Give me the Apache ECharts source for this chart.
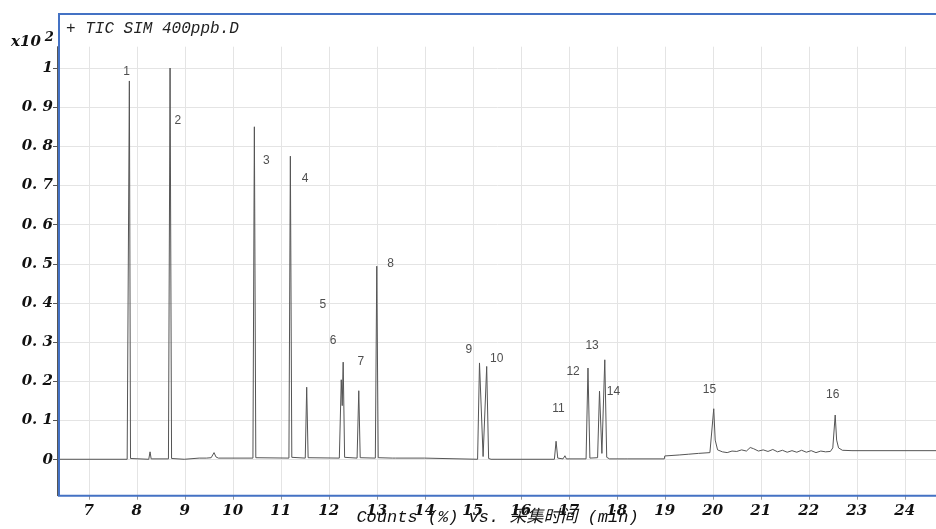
<!DOCTYPE html>
<html>
<head>
<meta charset="utf-8">
<title>TIC SIM 400ppb.D</title>
<script src="https://cdn.jsdelivr.net/npm/echarts@6/dist/echarts.min.js"></script>
<style>
  html, body { margin: 0; padding: 0; background: #fff; }
  #chart { width: 936px; height: 529px; }
</style>
</head>
<body>
<div id="chart"></div>
<script>
// retention time (min) and signal (x10^2 counts %)
const rtMin = [
  6.38, 7.80, 7.82, 7.846, 7.87, 7.90,
  8.25, 8.277, 8.30, 8.66, 8.694, 8.725, 8.76, 8.99,
  9.00, 9.30, 9.33, 9.45, 9.55, 9.61, 9.65, 9.70,
  10.42, 10.45, 10.48, 11.17, 11.20, 11.23, 11.26,
  11.51, 11.54, 11.57, 12.22, 12.26, 12.28, 12.30, 12.33, 12.37,
  12.59, 12.625, 12.655, 12.97, 13.00, 13.03, 13.07,
  13.33, 13.36, 13.39, 13.99, 14.00,
  15.10, 15.14, 15.215, 15.29, 15.33, 15.38,
  16.70, 16.735, 16.77, 16.88, 16.92, 16.95,
  17.36, 17.40, 17.44, 17.60, 17.64, 17.69, 17.75, 17.79, 17.85,
  18.17, 18.20, 18.23, 18.99,
  19.00, 19.30, 19.50, 19.70, 19.94, 20.02, 20.05, 20.10, 20.20,
  20.30, 20.40, 20.50, 20.60, 20.70, 20.78, 20.85, 20.95, 21.05, 21.15,
  21.25, 21.35, 21.45, 21.55, 21.65, 21.75, 21.85, 21.95, 22.05, 22.15,
  22.25, 22.35, 22.45, 22.50, 22.55, 22.58, 22.62, 22.70, 22.90, 24.65
];
const counts = [
  0.001, 0.001, 0.002, 0.967, 0.003, 0.001,
  0.001, 0.020, 0.002, 0.002, 1.000, 0.003, 0.001, 0.001,
  0.003, 0.004, 0.006, 0.004, 0.005, 0.018, 0.007, 0.004,
  0.004, 0.850, 0.005, 0.004, 0.775, 0.006, 0.004,
  0.004, 0.185, 0.005, 0.004, 0.204, 0.138, 0.249, 0.006, 0.004,
  0.004, 0.176, 0.005, 0.004, 0.494, 0.005, 0.004,
  0.004, 0.008, 0.004, 0.004, 0.001,
  0.001, 0.247, 0.008, 0.238, 0.003, 0.001,
  0.001, 0.047, 0.004, 0.002, 0.010, 0.002,
  0.002, 0.234, 0.004, 0.005, 0.175, 0.016, 0.255, 0.006, 0.002,
  0.002, 0.006, 0.002, 0.002,
  0.0095, 0.012, 0.014, 0.016, 0.018, 0.130, 0.050, 0.025, 0.020,
  0.018, 0.022, 0.021, 0.025, 0.022, 0.031, 0.028, 0.022, 0.025, 0.021,
  0.026, 0.020, 0.024, 0.019, 0.023, 0.019, 0.024, 0.019, 0.023, 0.018,
  0.022, 0.020, 0.021, 0.030, 0.114, 0.050, 0.030, 0.024, 0.023, 0.023
];

// peak numbers and where their labels sit
const peakNo = ['1', '2', '3', '4', '5', '6', '7', '8', '9', '10', '11', '12', '13', '14', '15', '16'];
const peakLabelRt = [7.79, 8.854, 10.70, 11.506, 11.875, 12.09, 12.667, 13.29, 14.917, 15.50, 16.783, 17.09, 17.485, 17.93, 19.93, 22.50];
const peakLabelY = [0.99, 0.866, 0.764, 0.718, 0.396, 0.304, 0.251, 0.501, 0.281, 0.259, 0.13, 0.225, 0.292, 0.174, 0.179, 0.166];

const xTicks = [7, 8, 9, 10, 11, 12, 13, 14, 15, 16, 17, 18, 19, 20, 21, 22, 23, 24];
const yTicks = [0, 0.1, 0.2, 0.3, 0.4, 0.5, 0.6, 0.7, 0.8, 0.9, 1];

const chart = echarts.init(document.getElementById('chart'));

const tickFont = {
  fontFamily: '"DejaVu Serif", "Liberation Serif", serif',
  fontStyle: 'italic',
  fontWeight: 'bold',
  fontSize: 15,
  color: '#111'
};

const option = {
  animation: false,
  backgroundColor: '#fff',
  grid: { left: 59, right: 0, top: 46.7, bottom: 33.3, containLabel: false, outerBoundsMode: 'none' },
  xAxis: {
    type: 'value',
    min: 6.38,
    max: 24.65,
    name: 'Counts (%) vs. 采集时间 (min)',
    nameLocation: 'middle',
    nameGap: 13,
    nameMoveOverlap: false,
    nameTextStyle: {
      fontFamily: '"Liberation Mono", "Noto Sans CJK SC", monospace',
      fontStyle: 'italic',
      fontSize: 17,
      color: '#111'
    },
    axisLine: { show: false, onZero: false },
    axisTick: { show: true, length: 4, customValues: xTicks, lineStyle: { color: '#999' } },
    axisLabel: { ...tickFont, margin: 8, customValues: xTicks },
    splitLine: { show: true, lineStyle: { color: '#e4e4e4', width: 1 } }
  },
  yAxis: {
    type: 'value',
    min: -0.092,
    max: 1.0545,
    offset: 2,
    axisLine: { show: true, onZero: false, lineStyle: { color: '#555', width: 1 } },
    axisTick: { show: true, length: 4, customValues: yTicks, lineStyle: { color: '#555' } },
    axisLabel: {
      ...tickFont,
      margin: 4,
      customValues: yTicks,
      formatter: (v) => {
        if (v === 0) return '0';
        if (v === 1) return '1';
        return '0. ' + Math.round(v * 10);
      }
    },
    splitLine: { show: true, lineStyle: { color: '#e4e4e4', width: 1 } }
  },
  graphic: [
    {
      type: 'rect',
      shape: { x: 59, y: 14, width: 900, height: 481.7 },
      style: { fill: null, stroke: '#4472c4', lineWidth: 2 },
      z: 100,
      silent: true
    },
    {
      type: 'text',
      left: 66,
      top: 21,
      style: {
        text: '+ TIC SIM 400ppb.D',
        font: 'italic 16px "Liberation Mono", monospace',
        fill: '#222'
      },
      z: 101
    },
    {
      type: 'text',
      left: 11,
      top: 31,
      style: {
        text: '{b|x10}{s|2}',
        rich: {
          b: { font: 'italic bold 15px "DejaVu Serif", serif', fill: '#111' },
          s: { font: 'italic bold 13px "DejaVu Serif", serif', fill: '#111', padding: [0, 0, 9, 4] }
        }
      },
      z: 101
    }
  ],
  series: [
    {
      name: 'TIC',
      type: 'line',
      data: rtMin.map((t, i) => [t, counts[i]]),
      showSymbol: false,
      symbol: 'none',
      lineStyle: { color: '#555', width: 1 },
      z: 5
    },
    {
      name: 'peaks',
      type: 'scatter',
      symbolSize: 0,
      data: peakLabelRt.map((t, i) => [t, peakLabelY[i]]),
      label: {
        show: true,
        position: 'inside',
        formatter: (p) => peakNo[p.dataIndex],
        fontFamily: '"Liberation Sans", Arial, sans-serif',
        fontSize: 12,
        color: '#222'
      },
      z: 6
    }
  ]
};

chart.setOption(option);

window.addEventListener('resize', () => {
  chart.resize();
});
</script>
</body>
</html>
